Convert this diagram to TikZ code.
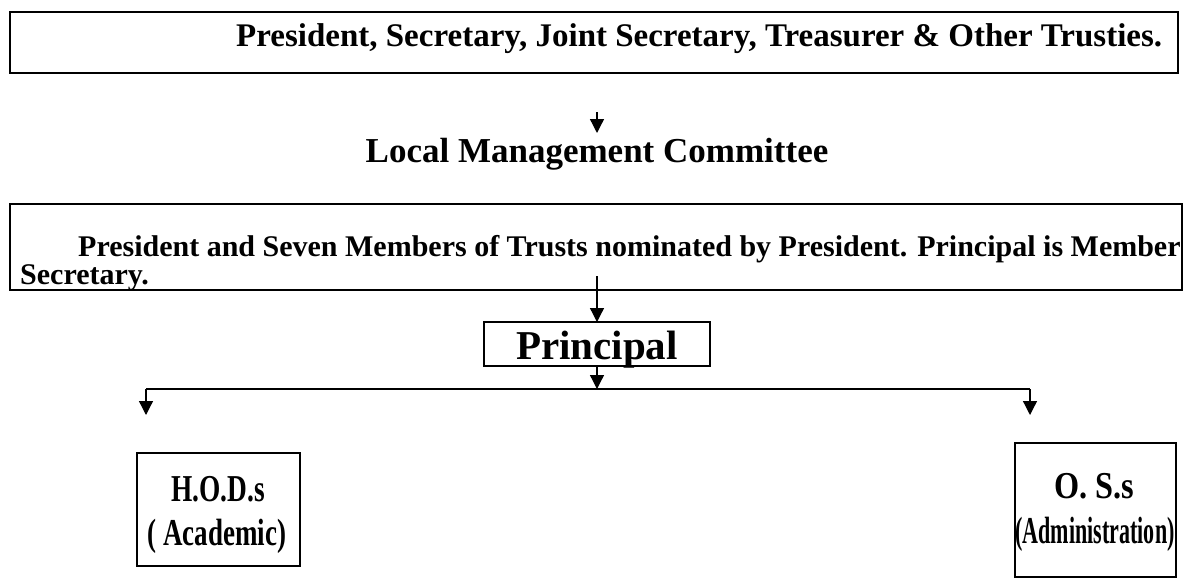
\documentclass[tikz,border=0pt]{standalone}
\usepackage{fontspec}
\usepackage{graphicx}
\setmainfont{Liberation Serif}
\usetikzlibrary{arrows.meta}
\begin{document}
\begin{tikzpicture}[x=1pt,y=-1pt,
  box/.style={draw, line width=1.6pt, inner sep=0pt, outer sep=0pt, anchor=north west},
  txt/.style={inner sep=0pt, anchor=base west},
  ctxt/.style={inner sep=0pt, anchor=base},
  big/.style={font=\bfseries\fontsize{38}{38}\selectfont},
  arr/.style={line width=1.3pt, -{Triangle[width=14pt,length=14pt]}},
  ln/.style={line width=1.3pt}]
\useasboundingbox (0,0) rectangle (1189,581);
% boxes
\node[box, minimum width=1168pt, minimum height=61pt] (topbox) at (10,12) {};
\node[box, minimum width=1172pt, minimum height=86pt] (lmcbox) at (10,204) {};
\node[box, minimum width=226pt, minimum height=44pt] (prbox) at (484,322) {};
\node[box, minimum width=163pt, minimum height=113pt] (hodbox) at (137,453) {};
\node[box, minimum width=161pt, minimum height=134pt] (osbox) at (1015,443) {};
% texts
\node[txt, font=\bfseries\fontsize{33}{33}\selectfont] (toptxt) at (236,46) {President, Secretary, Joint Secretary, Treasurer \& Other Trusties.};
\node[ctxt, font=\bfseries\fontsize{35}{35}\selectfont] (lmc) at (597,162) {Local Management Committee};
\node[txt, font=\bfseries\fontsize{30}{30}\selectfont] (l1) at (78,256) {President and Seven Members of Trusts nominated by President. Principal is Member};
\node[txt, font=\bfseries\fontsize{30}{30}\selectfont] (l2) at (20,284) {Secretary.};
\node[ctxt, font=\bfseries\fontsize{41}{41}\selectfont] (pr) at (597,359) {Principal};
\node[ctxt, big] (hod1) at (218,501) {\scalebox{0.72}[1]{H.O.D.s}};
\node[ctxt, big] (hod2) at (217,545) {\scalebox{0.71}[1]{( Academic)}};
\node[ctxt, big] (os1) at (1094,498) {\scalebox{0.85}[1]{O. S.s}};
\node[ctxt, big] (os2) at (1095,543) {\scalebox{0.58}[1]{(Administration)}};
% connectors
\coordinate (a1s) at (597,112);
\coordinate (a1e) at (597,133);
\coordinate (a2s) at (597,276);
\coordinate (split) at (597,389);
\coordinate (lft) at (146,389);
\coordinate (rgt) at (1030,389);
\coordinate (lfte) at (146,415);
\coordinate (rgte) at (1030,415);
\draw[arr] (a1s) -- (a1e);
\draw[arr] (a2s) -- (prbox.north);
\draw[arr] (prbox.south) -- (split);
\draw[ln] (lft) -- (rgt);
\draw[arr] (lft) -- (lfte);
\draw[arr] (rgt) -- (rgte);
\end{tikzpicture}
\end{document}
